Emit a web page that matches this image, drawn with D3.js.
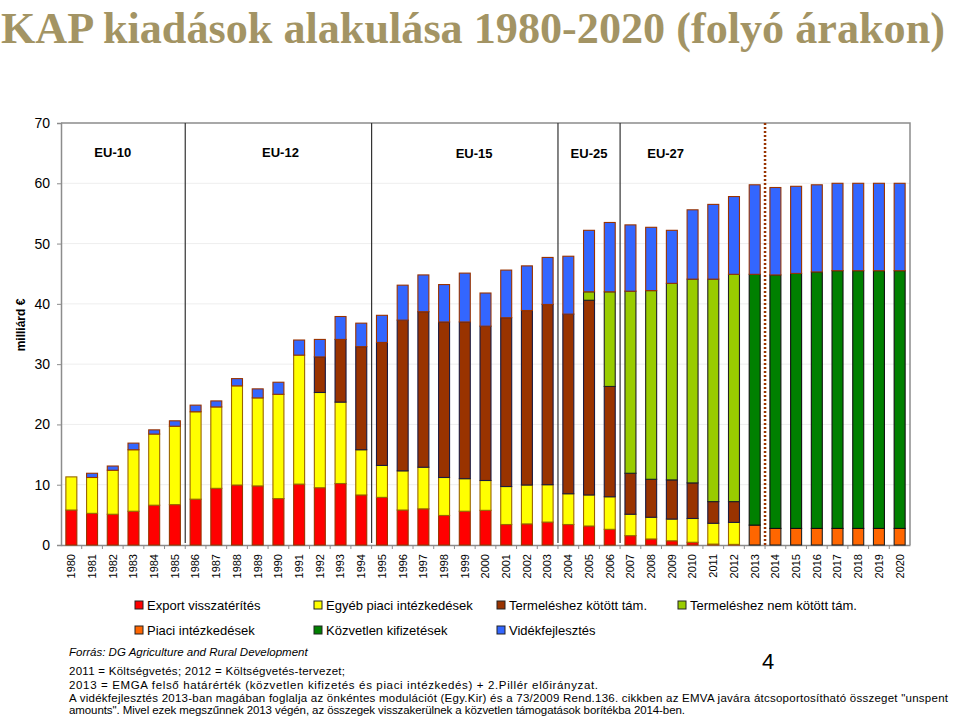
<!DOCTYPE html>
<html>
<head>
<meta charset="utf-8">
<style>
    body { margin: 0; background: #fff; }
    svg { font-family: Arial, "Liberation Sans", sans-serif; }
</style>
</head>
<body>
<svg id="chart" width="960" height="717"></svg>
<script src="https://d3js.org/d3.v7.min.js"></script>
<script>
    // years on the x axis
    const years = d3.range(1980, 2021).map(String);

    // segment heights per series (milliárd €), bottom to top
    const exportRefund = [5.8, 5.25, 5.1, 5.6, 6.6, 6.7, 7.6, 9.4, 9.95, 9.8, 7.7, 10.1, 9.5, 10.2, 8.3, 7.9, 5.8, 6.0, 4.9, 5.6,
        5.75, 3.4, 3.5, 3.8, 3.4, 3.15, 2.6, 1.55, 1.0, 0.7, 0.45, 0.15, 0.1, 0, 0, 0, 0, 0, 0, 0, 0];
    const otherMarket = [5.5, 5.95, 7.3, 10.2, 11.8, 13.0, 14.5, 13.5, 16.45, 14.6, 17.3, 21.4, 15.8, 13.5, 7.5, 5.3, 6.5, 6.9, 6.3, 5.4,
        4.95, 6.3, 6.45, 6.2, 5.1, 5.15, 5.4, 3.55, 3.6, 3.6, 3.95, 3.45, 3.65, 0, 0, 0, 0, 0, 0, 0, 0];
    const coupled = [0, 0, 0, 0, 0, 0, 0, 0, 0, 0, 0, 0, 5.9, 10.4, 17.1, 20.4, 25.0, 25.8, 25.8, 26.0,
        25.6, 28.0, 28.95, 29.9, 29.8, 32.3, 18.3, 6.8, 6.3, 6.5, 5.9, 3.6, 3.45, 0, 0, 0, 0, 0, 0, 0, 0];
    const decoupled = [0, 0, 0, 0, 0, 0, 0, 0, 0, 0, 0, 0, 0, 0, 0, 0, 0, 0, 0, 0,
        0, 0, 0, 0, 0, 1.4, 15.7, 30.2, 31.3, 32.6, 33.8, 36.9, 37.7, 0, 0, 0, 0, 0, 0, 0, 0];
    const marketMeasures = [0, 0, 0, 0, 0, 0, 0, 0, 0, 0, 0, 0, 0, 0, 0, 0, 0, 0, 0, 0,
        0, 0, 0, 0, 0, 0, 0, 0, 0, 0, 0, 0, 0, 3.3, 2.75, 2.75, 2.75, 2.75, 2.75, 2.75, 2.75];
    const directPayments = [0, 0, 0, 0, 0, 0, 0, 0, 0, 0, 0, 0, 0, 0, 0, 0, 0, 0, 0, 0,
        0, 0, 0, 0, 0, 0, 0, 0, 0, 0, 0, 0, 0, 41.6, 42.05, 42.3, 42.55, 42.75, 42.75, 42.75, 42.75];
    const ruralDev = [0, 0.7, 0.7, 1.1, 0.7, 0.9, 1.1, 1.0, 1.2, 1.5, 2.0, 2.5, 2.9, 3.8, 3.9, 4.5, 5.8, 6.1, 6.2, 8.1,
        5.5, 7.9, 7.4, 7.8, 9.6, 10.2, 11.5, 11.0, 10.5, 8.8, 11.5, 12.4, 12.9, 14.85, 14.5, 14.45, 14.45, 14.5, 14.5, 14.5, 14.5];

    const seriesNames = ["Export visszatérítés", "Egyéb piaci intézkedések", "Termeléshez kötött tám.",
        "Termeléshez nem kötött tám.", "Piaci intézkedések", "Közvetlen kifizetések", "Vidékfejlesztés"];
    const seriesValues = [exportRefund, otherMarket, coupled, decoupled, marketMeasures, directPayments, ruralDev];
    const seriesColors = ["#ff0000", "#ffff00", "#993300", "#99cc00", "#ff6600", "#008000", "#3366ff"];
    const seriesStrokes = ["#993300", "#996600", "#1a1a40", "#222222", "#222222", "#111111", "#993300"];

    // EU enlargement periods and the first year of each new period
    const periodLabels = ["EU-10", "EU-12", "EU-15", "EU-25", "EU-27"];
    const periodStarts = ["1986", "1995", "2004", "2007"];
    const yTicks = [0, 10, 20, 30, 40, 50, 60, 70];

    const svg = d3.select("#chart");
    const plotLeft = 61, plotRight = 910, plotTop = 123, plotBottom = 545;

    // title
    svg.append("text")
        .attr("x", 1).attr("y", 43)
        .attr("textLength", 944).attr("lengthAdjust", "spacingAndGlyphs")
        .style("font-family", "'Liberation Serif', 'Times New Roman', serif")
        .style("font-weight", "bold").style("font-size", "44px")
        .attr("fill", "#a39464")
        .text("KAP kiadások alakulása 1980-2020 (folyó árakon)");

    let table = years.map((y, i) => {
        let row = { year: y };
        seriesNames.forEach((n, k) => row[n] = seriesValues[k][i]);
        return row;
    });

    let xScale = d3.scaleBand()
        .domain(years)
        .range([plotLeft, plotRight])
        .paddingInner(0.47)
        .paddingOuter(0.235);
    let yScale = d3.scaleLinear()
        .domain([0, 70])
        .range([plotBottom, plotTop]);
    let step = xScale.step(), bw = xScale.bandwidth();
    let gapBefore = (y) => xScale(y) - (step - bw) / 2;

    // faint gridlines
    svg.append("g").selectAll("line")
        .data(yTicks.slice(1, -1))
        .enter().append("line")
        .attr("x1", plotLeft).attr("x2", plotRight)
        .attr("y1", (d) => yScale(d)).attr("y2", (d) => yScale(d))
        .attr("stroke", "#eeeeee");

    // plot frame (top and right)
    svg.append("path")
        .attr("d", `M${plotLeft},${plotTop}H${plotRight}V${plotBottom}`)
        .attr("fill", "none").attr("stroke", "#8c8c8c").attr("stroke-width", 1.5);

    // y axis
    let yAxis = svg.append("g")
        .attr("transform", `translate(${plotLeft},0)`)
        .call(d3.axisLeft(yScale).tickValues(yTicks).tickSize(4).tickPadding(7));
    yAxis.select(".domain").attr("stroke", "#8c8c8c").attr("stroke-width", 1.5);
    yAxis.selectAll(".tick line").attr("stroke", "#8c8c8c");
    yAxis.selectAll(".tick text").style("font-size", "14px").attr("fill", "#000");

    svg.append("text")
        .attr("transform", "translate(25,325) rotate(-90)")
        .attr("text-anchor", "middle")
        .style("font-size", "12px").style("font-weight", "bold")
        .text("milliárd €");

    // x axis
    let xAxis = svg.append("g")
        .attr("transform", `translate(0,${plotBottom})`)
        .call(d3.axisBottom(xScale).tickSize(0).tickPadding(0));
    xAxis.select(".domain").attr("stroke", "#8c8c8c").attr("stroke-width", 1.5);
    xAxis.selectAll(".tick text")
        .style("font-size", "11px").attr("fill", "#000")
        .attr("text-anchor", "end")
        .attr("y", 0)
        .attr("dy", "0.35em")
        .attr("transform", "translate(0,9) rotate(-90)");
    svg.append("g").selectAll("line")
        .data(years.slice(1))
        .enter().append("line")
        .attr("x1", (d) => gapBefore(d))
        .attr("x2", (d) => gapBefore(d))
        .attr("y1", plotBottom).attr("y2", plotBottom + 4)
        .attr("stroke", "#8c8c8c");

    // stacked bars
    let stack = d3.stack().keys(seriesNames);
    let layers = svg.append("g").selectAll("g")
        .data(stack(table))
        .enter().append("g")
        .attr("fill", (d, i) => seriesColors[i])
        .attr("stroke", (d, i) => seriesStrokes[i])
        .attr("stroke-width", 1.1);
    layers.selectAll("rect")
        .data((d) => d.filter((p) => p[1] - p[0] > 0))
        .enter().append("rect")
        .attr("x", (d) => xScale(d.data.year))
        .attr("width", bw)
        .attr("y", (d) => yScale(d[1]))
        .attr("height", (d) => yScale(d[0]) - yScale(d[1]));

    // period separators and labels
    svg.append("g").selectAll("line")
        .data(periodStarts)
        .enter().append("line")
        .attr("x1", (d) => gapBefore(d))
        .attr("x2", (d) => gapBefore(d))
        .attr("y1", plotTop).attr("y2", plotBottom - 2)
        .attr("stroke", "#333").attr("stroke-width", 1.2);
    // label centre, in bar steps from the 1980 bar
    let labelSteps = [2.0, 10.1, 19.45, 25.0, 28.7];
    svg.append("g").selectAll("text")
        .data(periodLabels)
        .enter().append("text")
        .attr("x", (d, i) => xScale(years[0]) + bw / 2 + labelSteps[i] * step)
        .attr("y", (d, i) => 157 + (i > 1 ? 1 : 0))
        .attr("text-anchor", "middle")
        .style("font-size", "13px").style("font-weight", "bold")
        .text((d) => d);

    // dotted line between 2013 and 2014
    let xd = gapBefore("2014");
    svg.append("line")
        .attr("x1", xd).attr("x2", xd)
        .attr("y1", plotTop).attr("y2", plotBottom)
        .attr("stroke", "#993300").attr("stroke-width", 2.5)
        .attr("stroke-dasharray", "2,2");

    // legend
    let legendPos = [[135, 601], [314, 601], [497, 601], [678, 601], [135, 626], [314, 626], [497, 626]];
    let legend = svg.append("g").selectAll("g")
        .data(seriesNames)
        .enter().append("g")
        .attr("transform", (d, i) => `translate(${legendPos[i][0]},${legendPos[i][1]})`);
    legend.append("rect")
        .attr("width", 8).attr("height", 8)
        .attr("fill", (d, i) => seriesColors[i])
        .attr("stroke", "#222").attr("stroke-width", 1);
    legend.append("text")
        .attr("x", 12).attr("y", 8.5)
        .style("font-size", "13px")
        .text((d) => d);

    // source and notes
    svg.append("text")
        .attr("x", 69).attr("y", 656)
        .style("font-size", "11.5px").style("font-style", "italic")
        .text("Forrás: DG Agriculture and Rural Development");
    svg.append("text")
        .attr("x", 762).attr("y", 669)
        .style("font-size", "22px")
        .text("4");
    const notes = [
        ["2011 = Költségvetés; 2012 = Költségvetés-tervezet;", 675, 276],
        ["2013 = EMGA felső határérték (közvetlen kifizetés és piaci intézkedés) + 2.Pillér előirányzat.", 689, 529],
        ["A vidékfejlesztés 2013-ban magában foglalja az önkéntes modulációt (Egy.Kir) és a 73/2009 Rend.136. cikkben az EMVA javára átcsoportosítható összeget \"unspent", 702, 879],
        ["amounts\". Mivel ezek megszűnnek 2013 végén, az összegek visszakerülnek a közvetlen támogatások borítékba 2014-ben.", 713.5, 616]
    ];
    notes.forEach((n) => {
        svg.append("text")
            .attr("x", 69).attr("y", n[1])
            .attr("textLength", n[2]).attr("lengthAdjust", "spacing")
            .style("font-size", "11.5px")
            .text(n[0]);
    });
</script>
</body>
</html>
